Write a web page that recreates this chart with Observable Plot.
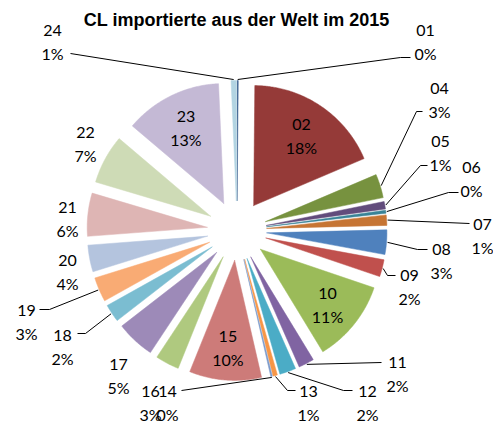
<!DOCTYPE html>
<html><head><meta charset="utf-8">
<script src="https://cdn.jsdelivr.net/npm/d3@7"></script>
<script src="https://cdn.jsdelivr.net/npm/@observablehq/plot@0.6"></script>
<style>body{margin:0;background:#fff}</style>
</head><body><div id="chart"></div>
<script>
// ---- data ----
const title = "CL importierte aus der Welt im 2015";
const categories = ["01","02","04","05","06","07","08","09","10","11","12","13","14","15","16","17","18","19","20","21","22","23","24"];
const shares = [0.15,18.45,3.2,1.0,0.4,1.4,3.3,2.3,11.1,2.1,2.2,0.6,0.2,9.7,3.2,5.2,2.4,3.3,3.6,5.8,6.6,13.1,0.7];
const colors = ["#3C6290","#953A38","#77923F","#624C7C","#398397","#C67534","#4F81BD","#C0504D","#9BBB59","#8064A2","#4BACC6","#F79646","#7C9ACB","#CD7B79","#AFC97F","#9D8AB8","#7BBDD1","#F9AB74","#B4C4DE","#DEB5B4","#CEDBB6","#C4B9D5","#B2D4E2"];

// ---- layout ----
const W = 493, H = 421, cx = 236.5, cy = 230, R = 120, explode = 30;
const insideLabels = ["02","10","15","23"];
const insideDist = 116;
const labelAt = {"24":[52,29],"01":[425,29],"04":[439,87],"05":[440,140],"06":[471,166],"07":[482,223],"08":[441,248],"09":[409,274],"11":[397,361],"12":[367,390],"13":[308,390],"14":[167,390],"16":[150,390],"17":[118,363],"18":[62,334],"19":[26,309],"20":[67,259],"21":[67,206],"22":[85,131]};
const leaderTo = {"24":[[70,53]],"01":[[400,57],[410,57]],"04":[[416,111],[422,111]],"05":[[420,165],[427,165]],"06":[[448,192],[458,192]],"07":[[469,223]],"08":[[417,249],[427,249]],"09":[[387,275],[395,275]],"11":[[381,362]],"12":[[343,390],[352,390]],"13":[[287,390],[295,390]],"14":[[181,390]],"18":[[85,333],[77,333]],"19":[[49,309],[39,309]]};
const fs = 16, lh = 1.53;

const rows = categories.map((key, i) => ({key, share: shares[i]}));
const total = d3.sum(shares);
const arcs = d3.pie().sort(null).value(d => d.share)(rows);

const slicePts = [], insideRows = [], outsideRows = [], leaderPts = [];
for (const a of arcs) {
  const key = a.data.key;
  const m = (a.startAngle + a.endAngle) / 2;
  const ax = cx + explode * Math.sin(m), ay = cy - explode * Math.cos(m);
  const n = Math.max(2, Math.ceil((a.endAngle - a.startAngle) / (Math.PI / 360)));
  slicePts.push({key, x: ax, y: ay});
  for (let j = 0; j <= n; j++) {
    const t = a.startAngle + (a.endAngle - a.startAngle) * j / n;
    slicePts.push({key, x: ax + R * Math.sin(t), y: ay - R * Math.cos(t)});
  }
  slicePts.push({key, x: ax, y: ay});
  const text = `${key}\n${Math.round(a.data.share / total * 100)}%`;
  if (insideLabels.includes(key)) {
    insideRows.push({text, x: cx + insideDist * Math.sin(m), y: cy - insideDist * Math.cos(m)});
  } else if (labelAt[key]) {
    outsideRows.push({text, x: labelAt[key][0], y: labelAt[key][1] - 0.71 * fs});
  }
  if (leaderTo[key]) {
    const r0 = explode + R + 1;
    leaderPts.push({key, x: cx + r0 * Math.sin(m), y: cy - r0 * Math.cos(m)});
    for (const p of leaderTo[key]) leaderPts.push({key, x: p[0], y: p[1]});
  }
}

const chart = Plot.plot({
  width: W, height: H, margin: 0,
  x: {domain: [0, W], axis: null},
  y: {domain: [H, 0], axis: null},
  color: {type: "ordinal", domain: categories, range: colors},
  style: {background: "#fff"},
  marks: [
    Plot.line(slicePts, {x: "x", y: "y", z: "key", fill: "key", stroke: "key", strokeWidth: 0.5, curve: "linear"}),
    Plot.line(leaderPts, {x: "x", y: "y", z: "key", stroke: "#000", strokeWidth: 1, strokeLinecap: "butt", strokeLinejoin: "miter"}),
    Plot.text(insideRows, {x: "x", y: "y", text: "text", lineAnchor: "middle", lineHeight: lh, fontSize: fs, fontFamily: "Lato, sans-serif", fill: "#000"}),
    Plot.text(outsideRows, {x: "x", y: "y", text: "text", lineAnchor: "top", lineHeight: lh, fontSize: fs, fontFamily: "Lato, sans-serif", fill: "#000"}),
    Plot.text([title], {frameAnchor: "top", text: d => d, dx: -10.5, dy: 13.2, lineAnchor: "top", fontSize: 18, fontWeight: "bold", fontFamily: "Liberation Sans, Arial, sans-serif", fill: "#000"})
  ]
});
document.getElementById("chart").appendChild(chart);
</script>
</body></html>
